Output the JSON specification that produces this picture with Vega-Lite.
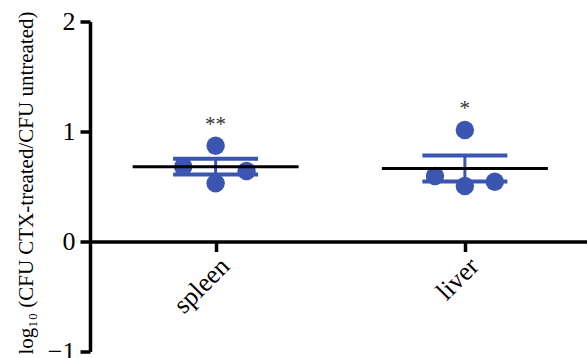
{
  "$schema": "https://vega.github.io/schema/vega-lite/v6.json",
  "width": 497,
  "height": 330,
  "autosize": {"type": "none"},
  "padding": {"left": 90, "top": 21.5, "right": 0, "bottom": 6.5},
  "background": "white",
  "config": {"view": {"stroke": null}, "font": "Liberation Serif"},
  "data": {
    "values": [
      {"organ": "spleen", "pos": 1, "xpos": 0.870, "value": 0.680, "sig": "**"},
      {"organ": "spleen", "pos": 1, "xpos": 1.0, "value": 0.871, "sig": "**"},
      {"organ": "spleen", "pos": 1, "xpos": 1.0, "value": 0.529, "sig": "**"},
      {"organ": "spleen", "pos": 1, "xpos": 1.124, "value": 0.641, "sig": "**"},
      {"organ": "liver", "pos": 2, "xpos": 1.880, "value": 0.595, "sig": "*"},
      {"organ": "liver", "pos": 2, "xpos": 2.0, "value": 1.014, "sig": "*"},
      {"organ": "liver", "pos": 2, "xpos": 2.0, "value": 0.505, "sig": "*"},
      {"organ": "liver", "pos": 2, "xpos": 2.120, "value": 0.544, "sig": "*"}
    ]
  },
  "layer": [
    {
      "mark": {
        "type": "errorbar",
        "extent": "stderr",
        "orient": "vertical",
        "color": "#3a56b1",
        "opacity": 1,
        "thickness": 3,
        "ticks": {"size": 85, "thickness": 4, "color": "#3a56b1", "opacity": 1},
        "rule": {"strokeWidth": 3, "color": "#3a56b1", "opacity": 1}
      },
      "encoding": {
        "x": {
          "field": "pos",
          "type": "quantitative",
          "scale": {"domain": [0.496, 2.49], "nice": false, "zero": false},
          "axis": {
            "values": [1, 2],
            "labelExpr": "datum.value == 1 ? 'spleen' : 'liver'",
            "orient": "bottom",
            "offset": -110,
            "title": null,
            "grid": false,
            "domainColor": "black",
            "domainWidth": 3.5,
            "tickColor": "black",
            "tickWidth": 3.5,
            "tickSize": 10,
            "labelAngle": -45,
            "labelFontSize": 26,
            "labelFont": "Liberation Serif",
            "labelColor": "black",
            "labelPadding": 1,
            "labelFlush": false,
            "labelOverlap": false
          }
        },
        "y": {
          "field": "value",
          "type": "quantitative",
          "scale": {"domain": [-1, 2], "nice": false, "zero": false},
          "axis": {
            "values": [-1, 0, 1, 2],
            "format": "d",
            "title": "log₁₀ (CFU CTX-treated/CFU untreated)",
            "titleFont": "Liberation Serif",
            "titleFontSize": 21,
            "titleFontWeight": "normal",
            "titleColor": "black",
            "titlePadding": 11,
            "titleY": 161,
            "grid": false,
            "domainColor": "black",
            "domainWidth": 3.5,
            "tickColor": "black",
            "tickWidth": 3.5,
            "tickSize": 10,
            "labelFontSize": 26,
            "labelFont": "Liberation Serif",
            "labelColor": "black",
            "labelPadding": 5
          }
        }
      }
    },
    {
      "mark": {"type": "circle", "size": 340, "color": "#3a56b1", "opacity": 1},
      "encoding": {
        "x": {"field": "xpos", "type": "quantitative"},
        "y": {"field": "value", "type": "quantitative"}
      }
    },
    {
      "mark": {"type": "tick", "orient": "horizontal", "size": 166, "thickness": 3, "color": "black", "opacity": 1},
      "encoding": {
        "x": {"field": "pos", "type": "quantitative"},
        "y": {"field": "value", "type": "quantitative", "aggregate": "mean"}
      }
    },
    {
      "transform": [
        {"aggregate": [{"op": "max", "field": "value", "as": "maxv"}], "groupby": ["pos", "sig"]}
      ],
      "mark": {"type": "text", "fontSize": 21, "dy": -15, "color": "#333333", "baseline": "alphabetic", "font": "Liberation Serif"},
      "encoding": {
        "x": {"field": "pos", "type": "quantitative"},
        "y": {"field": "maxv", "type": "quantitative"},
        "text": {"field": "sig"}
      }
    }
  ]
}
